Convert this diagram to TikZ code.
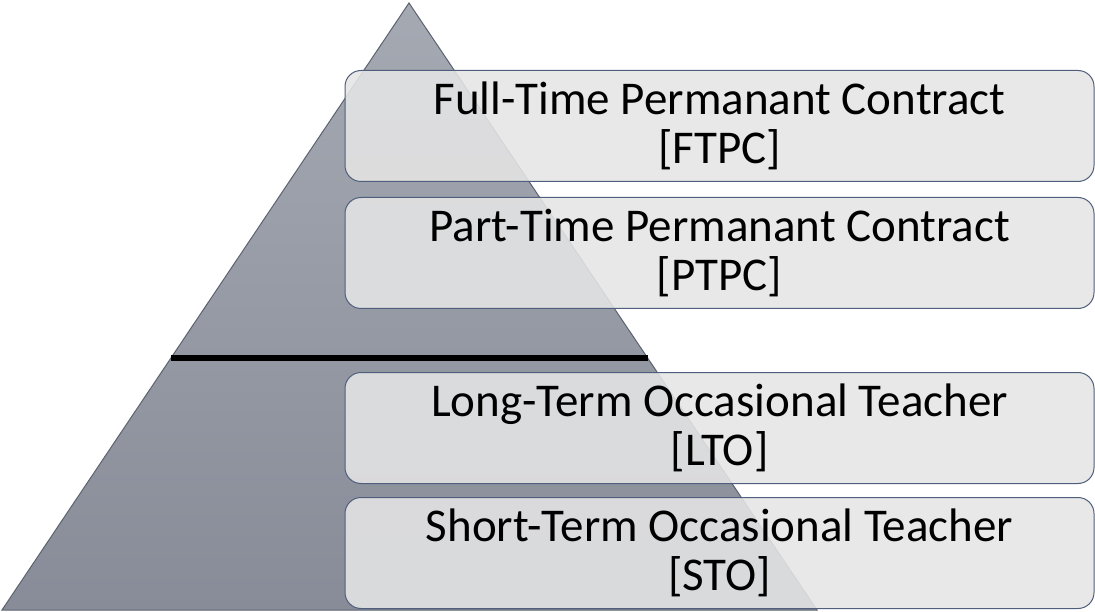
\documentclass[tikz,border=0pt]{standalone}
\usepackage{fontspec}
\setmainfont{Carlito}
\usetikzlibrary{calc}
\definecolor{pyramidtop}{HTML}{A4A9B2}
\definecolor{pyramidbottom}{HTML}{878C98}
\definecolor{pyramidedge}{HTML}{5C6270}
\definecolor{boxfill}{HTML}{E5E5E5}
\definecolor{boxedge}{HTML}{4E5E7C}
\begin{document}
\begin{tikzpicture}[x=1pt,y=-1pt,
  taso/.style={draw=boxedge,line width=1pt,fill=boxfill,fill opacity=0.88,text opacity=1,
    rounded corners=16pt,minimum width=749pt,minimum height=111pt,inner sep=0pt,align=center,
    font=\fontsize{47}{49}\selectfont}]
\useasboundingbox (0,0) rectangle (1095,612);
\coordinate (apex) at (409,3);
\coordinate (left) at (2,610);
\coordinate (right) at (817,610);
\path[draw=pyramidedge,line width=1pt,top color=pyramidtop,bottom color=pyramidbottom]
  (apex) -- (right) -- (left) -- cycle;
\draw[line width=5.5pt] ($(apex)!0.585!(left)$) -- ($(apex)!0.585!(right)$);
\node[taso] (ftpc) at (719.5,126) {Full-Time Permanant Contract\\ {[FTPC]}};
\node[taso] (ptpc) at (719.5,253) {Part-Time Permanant Contract\\ {[PTPC]}};
\node[taso] (lto) at (719.5,428) {Long-Term Occasional Teacher\\ {[LTO]}};
\node[taso] (sto) at (719.5,553) {Short-Term Occasional Teacher\\ {[STO]}};
\end{tikzpicture}
\end{document}
